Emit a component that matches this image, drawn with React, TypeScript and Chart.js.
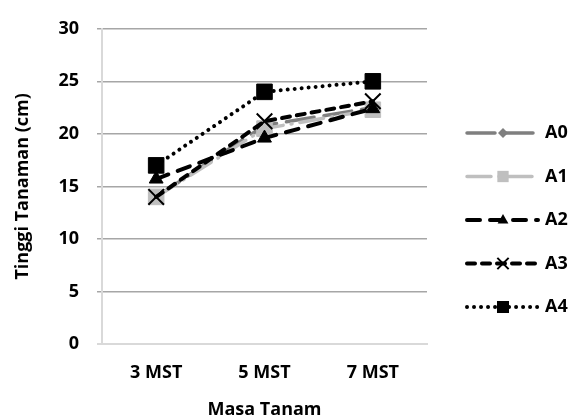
import React, { useEffect, useRef } from "react";
import { Chart, registerables } from "chart.js";

Chart.register(...registerables);

const categories = ["3 MST", "5 MST", "7 MST"];
const seriesNames = ["A0", "A1", "A2", "A3", "A4"];
const a0 = [14.0, 20.8, 22.5];
const a1 = [14.0, 20.5, 22.3];
const a2 = [15.7, 19.6, 22.4];
const a3 = [14.0, 21.2, 23.1];
const a4 = [17.0, 24.0, 25.0];
const yTicks = [0, 5, 10, 15, 20, 25, 30];
const yTitle = "Tinggi Tanaman (cm)";
const xTitle = "Masa Tanam";

const FONT = "'Open Sans', 'DejaVu Sans', sans-serif";

type Style = {
  color: string;
  width: number;
  dash: number[];
  cap: CanvasLineCap;
  point: string;
  radius: number;
  legendSize: number;
  pointBorder: number;
};

const styles: Style[] = [
  { color: "#7f7f7f", width: 3.5, dash: [28, 10], cap: "round", point: "rectRot", radius: 5, legendSize: 5, pointBorder: 1 },
  { color: "#bfbfbf", width: 3.5, dash: [24, 8, 1, 8], cap: "round", point: "rect", radius: 11, legendSize: 8, pointBorder: 1 },
  { color: "#000000", width: 4, dash: [13, 10], cap: "round", point: "triangle", radius: 8, legendSize: 6, pointBorder: 1 },
  { color: "#000000", width: 4, dash: [8, 7], cap: "round", point: "crossRot", radius: 11, legendSize: 8, pointBorder: 2 },
  { color: "#000000", width: 4, dash: [0.01, 7], cap: "round", point: "rect", radius: 11, legendSize: 8.5, pointBorder: 1 },
];

function drawMarker(ctx: CanvasRenderingContext2D, kind: string, x: number, y: number, r: number, color: string) {
  ctx.save();
  ctx.setLineDash([]);
  ctx.fillStyle = color;
  ctx.strokeStyle = color;
  ctx.beginPath();
  if (kind === "rect") {
    ctx.fillRect(x - r * 0.707, y - r * 0.707, r * 1.414, r * 1.414);
  } else if (kind === "rectRot") {
    ctx.moveTo(x, y - r);
    ctx.lineTo(x + r, y);
    ctx.lineTo(x, y + r);
    ctx.lineTo(x - r, y);
    ctx.closePath();
    ctx.fill();
  } else if (kind === "triangle") {
    ctx.moveTo(x, y - r);
    ctx.lineTo(x + r * 0.9, y + r * 0.6);
    ctx.lineTo(x - r * 0.9, y + r * 0.6);
    ctx.closePath();
    ctx.fill();
  } else if (kind === "crossRot") {
    const d = r * 0.707;
    ctx.lineWidth = 2;
    ctx.moveTo(x - d, y - d);
    ctx.lineTo(x + d, y + d);
    ctx.moveTo(x + d, y - d);
    ctx.lineTo(x - d, y + d);
    ctx.stroke();
  }
  ctx.restore();
}

const legendPlugin = {
  id: "sideLegend",
  afterDraw(chart: any) {
    const ctx: CanvasRenderingContext2D = chart.ctx;
    const x0 = 467;
    const x1 = 538;
    const xm = 503;
    const yStart = 133;
    const step = 43.5;
    seriesNames.forEach((name, i) => {
      const s = styles[i];
      const y = yStart + i * step;
      ctx.save();
      ctx.strokeStyle = s.color;
      ctx.lineWidth = s.width;
      ctx.lineCap = s.cap;
      ctx.setLineDash(s.dash);
      ctx.beginPath();
      ctx.moveTo(x0, y);
      ctx.lineTo(x1, y);
      ctx.stroke();
      ctx.restore();
      drawMarker(ctx, s.point, xm, y, s.legendSize, s.color);
      ctx.save();
      ctx.fillStyle = "#000";
      ctx.font = `bold 18px ${FONT}`;
      ctx.textBaseline = "middle";
      ctx.textAlign = "left";
      ctx.fillText(name, 545, y);
      ctx.restore();
    });
  },
};

export default function App() {
  const ref = useRef<HTMLCanvasElement | null>(null);
  useEffect(() => {
    if (!ref.current) return;
    const values = [a0, a1, a2, a3, a4];
    const chart = new Chart(ref.current, {
      type: "line",
      data: {
        labels: categories,
        datasets: seriesNames.map((name, i) => ({
          label: name,
          data: values[i],
          borderColor: styles[i].color,
          backgroundColor: styles[i].color,
          borderWidth: styles[i].width,
          borderDash: styles[i].dash,
          borderCapStyle: styles[i].cap,
          pointStyle: styles[i].point as any,
          pointRadius: styles[i].radius,
          pointHoverRadius: styles[i].radius,
          pointBorderWidth: styles[i].pointBorder,
          pointBackgroundColor: styles[i].color,
          pointBorderColor: styles[i].color,
          tension: 0,
          fill: false,
          order: 4 - i,
        })),
      },
      options: {
        responsive: false,
        animation: false,
        events: [],
        layout: { padding: { left: 0, right: 142, top: 23, bottom: 0 } },
        plugins: {
          legend: { display: false },
          tooltip: { enabled: false },
        },
        scales: {
          x: {
            type: "category",
            offset: true,
            grid: { display: false },
            border: { display: true, color: "#d9d9d9", width: 2 },
            ticks: {
              color: "#000",
              padding: 10,
              font: { family: FONT, size: 18, weight: "bold" },
            },
            title: {
              display: true,
              text: xTitle,
              color: "#000",
              padding: { top: 0, bottom: -1 },
              font: { family: FONT, size: 18, weight: "bold" },
            },
            afterFit: (scale: any) => {
              scale.height = 76;
            },
          },
          y: {
            min: 0,
            max: 30,
            afterBuildTicks: (scale: any) => {
              scale.ticks = yTicks.map((v) => ({ value: v }));
            },
            grid: {
              color: (c: any) => (c.tick && c.tick.value === 0 ? "#d9d9d9" : "#a6a6a6"),
              lineWidth: (c: any) => (c.tick && c.tick.value === 0 ? 2 : 1.5),
              tickLength: 5,
              drawTicks: true,
            },
            border: { display: true, color: "#d9d9d9", width: 2 },
            ticks: {
              color: "#000",
              padding: 18,
              font: { family: FONT, size: 18, weight: "bold" },
            },
            title: {
              display: true,
              text: yTitle,
              color: "#000",
              padding: { top: 12, bottom: 0 },
              font: { family: FONT, size: 18, weight: "bold" },
            },
            afterFit: (scale: any) => {
              scale.width = 102;
            },
          },
        },
      },
      plugins: [legendPlugin],
    });
    return () => chart.destroy();
  }, []);
  return (
    <div style={{ position: "fixed", left: 0, top: 0, width: 569, height: 420, background: "#fff" }}>
      <canvas ref={ref} width={569} height={420} style={{ display: "block" }} />
    </div>
  );
}
